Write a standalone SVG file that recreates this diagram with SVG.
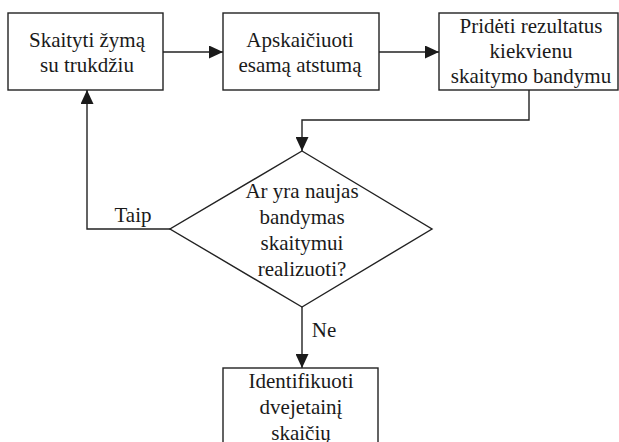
<svg xmlns="http://www.w3.org/2000/svg" width="619" height="442" viewBox="0 0 619 442">
<style>
.box{fill:#fff;stroke:#222;stroke-width:1.4}
.ln{fill:none;stroke:#222;stroke-width:1.4}
.t{font-size:21px;fill:#1a1a1a;text-anchor:middle}
</style>
<defs>
<marker id="ah" viewBox="0 0 14 13" refX="14" refY="6.5" markerWidth="14" markerHeight="13" markerUnits="userSpaceOnUse" orient="auto">
<path d="M0,0 L14,6.5 L0,13 z" fill="#1a1a1a"/>
</marker>
</defs>
<rect width="619" height="442" fill="#fff"/>
<g font-family="Liberation Serif, DejaVu Serif, serif">
<g id="connectors">
<path class="ln" d="M163,52 H223" marker-end="url(#ah)"/>
<path class="ln" d="M379,52 H439" marker-end="url(#ah)"/>
<path class="ln" d="M529,90 V120 H302 V151" marker-end="url(#ah)"/>
<path class="ln" d="M170,229 H87 V90" marker-end="url(#ah)"/>
<path class="ln" d="M302,307 V368" marker-end="url(#ah)"/>
<text class="t" x="133" y="222">Taip</text>
<text class="t" x="324" y="337">Ne</text>
</g>
<g id="n1">
<rect class="box" x="8" y="13" width="155" height="77"/>
<text class="t" x="87" y="47">Skaityti žymą</text>
<text class="t" x="87" y="72">su trukdžiu</text>
</g>
<g id="n2">
<rect class="box" x="223" y="13" width="156" height="77"/>
<text class="t" x="300" y="47">Apskaičiuoti</text>
<text class="t" x="300" y="72">esamą atstumą</text>
</g>
<g id="n3">
<rect class="box" x="439" y="13" width="179" height="77"/>
<text class="t" x="531" y="33">Pridėti rezultatus</text>
<text class="t" x="531" y="58">kiekvienu</text>
<text class="t" x="531" y="83">skaitymo bandymu</text>
</g>
<g id="n4">
<polygon class="box" points="302,151 432,229 302,307 170,229"/>
<text class="t" x="302" y="198">Ar yra naujas</text>
<text class="t" x="302" y="224">bandymas</text>
<text class="t" x="302" y="250">skaitymui</text>
<text class="t" x="302" y="276">realizuoti?</text>
</g>
<g id="n5">
<rect class="box" x="223" y="368" width="155" height="90"/>
<text class="t" x="301" y="388">Identifikuoti</text>
<text class="t" x="301" y="414">dvejetainį</text>
<text class="t" x="301" y="440">skaičių</text>
</g>
</g>
</svg>
